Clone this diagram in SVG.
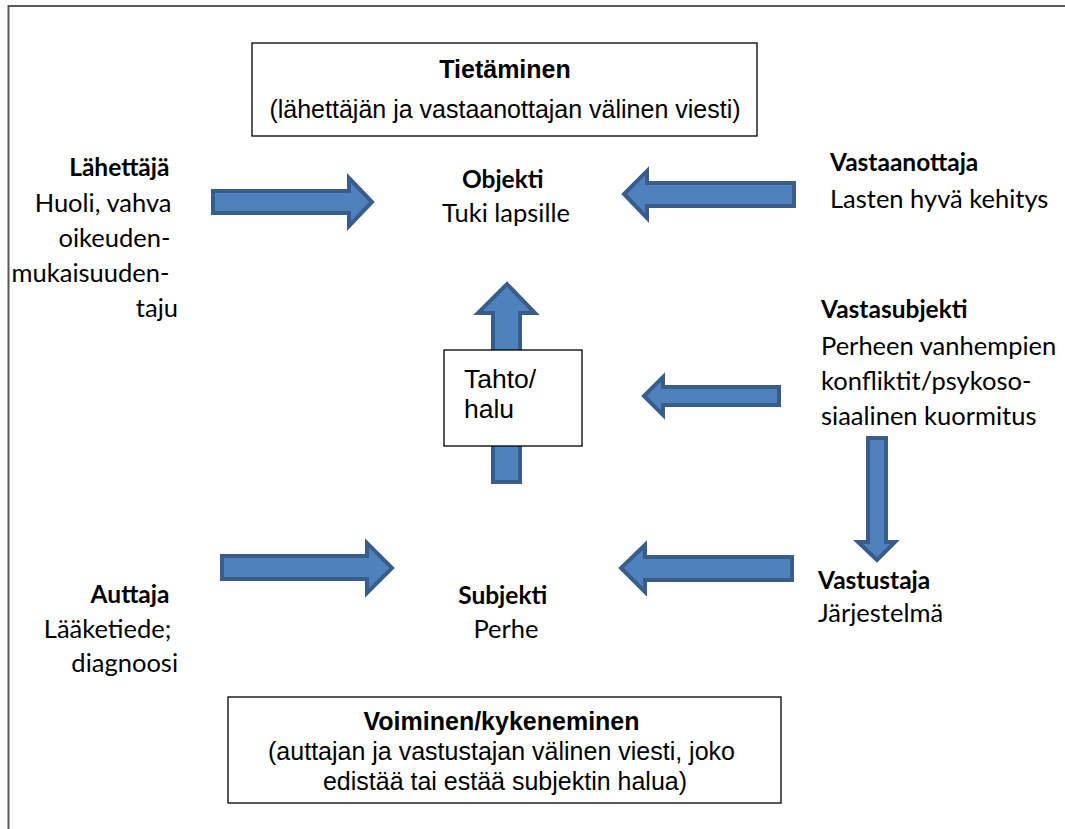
<svg xmlns="http://www.w3.org/2000/svg" width="1065" height="829" viewBox="0 0 1065 829">
  <style>
    .frame { fill: none; stroke: #595959; stroke-width: 2; }
    .box { fill: #ffffff; stroke: #000000; stroke-width: 1.3; }
    .arrow { fill: #4F81BD; stroke: #385D8A; stroke-width: 4; stroke-linejoin: miter; }
    .lbl { font-family: Lato, "Open Sans", sans-serif; font-size: 25.5px; fill: #000; }
    .lbl .b { font-weight: bold; font-size: 24.5px; }
    .ar { font-family: "Liberation Sans", Arial, sans-serif; fill: #000; }
    .ar .b, .ar.b { font-weight: bold; }
  </style>
  <rect width="1065" height="829" fill="#ffffff"/>
  <rect class="frame" x="8.5" y="6" width="1070" height="840"/>

  <g id="connectors">
    <!-- Lähettäjä -> Objekti -->
    <polygon class="arrow" points="213,191 349,191 349,178 372,202 349,226 349,213 213,213"/>
    <!-- Vastaanottaja -> Objekti -->
    <polygon class="arrow" points="794,183 647,183 647,171 624,194 647,218 647,206 794,206"/>
    <!-- Subjekti -> Objekti (up) -->
    <polygon class="arrow" points="493,482 493,313 478,313 507,284 535,313 520,313 520,482"/>
    <!-- Vastasubjekti -> Tahto/halu -->
    <polygon class="arrow" points="779,387 663,387 663,377 644,396 663,415 663,405 779,405"/>
    <!-- Vastasubjekti -> Vastustaja (down) -->
    <polygon class="arrow" points="868,438 886,438 886,542 895,542 877,560 858,542 868,542"/>
    <!-- Auttaja -> Subjekti -->
    <polygon class="arrow" points="222,556 367,556 367,543 392,568 367,593 367,579 222,579"/>
    <!-- Vastustaja -> Subjekti -->
    <polygon class="arrow" points="792,557 645,557 645,545 621,568 645,592 645,580 792,580"/>
  </g>

  <g id="tietaminen">
    <rect class="box" x="252" y="43" width="505" height="93"/>
    <text class="ar b" x="505" y="78" font-size="25" text-anchor="middle">Tietäminen</text>
    <text class="ar" x="505" y="118" font-size="25" text-anchor="middle">(lähettäjän ja vastaanottajan välinen viesti)</text>
  </g>

  <g id="lahettaja">
    <text class="lbl" text-anchor="end">
      <tspan class="b" x="176" y="176">Lähettäjä</tspan>
      <tspan x="178" y="212">Huoli, vahva</tspan>
      <tspan x="177" y="247">oikeuden-</tspan>
      <tspan x="176" y="282">mukaisuuden-</tspan>
      <tspan x="178" y="317">taju</tspan>
    </text>
  </g>

  <g id="objekti">
    <text class="lbl" text-anchor="middle">
      <tspan class="b" x="506" y="188">Objekti</tspan>
      <tspan x="506" y="222">Tuki lapsille</tspan>
    </text>
  </g>

  <g id="vastaanottaja">
    <text class="lbl">
      <tspan class="b" x="830" y="171">Vastaanottaja</tspan>
      <tspan x="830" y="208">Lasten hyvä kehitys</tspan>
    </text>
  </g>

  <g id="tahto">
    <rect class="box" x="444" y="350" width="138" height="96"/>
    <text class="ar" font-size="26.5">
      <tspan x="464" y="388">Tahto/</tspan>
      <tspan x="464" y="418">halu</tspan>
    </text>
  </g>

  <g id="vastasubjekti">
    <text class="lbl">
      <tspan class="b" x="821" y="318">Vastasubjekti</tspan>
      <tspan x="821" y="355">Perheen vanhempien</tspan>
      <tspan x="821" y="390">konfliktit/psykoso-</tspan>
      <tspan x="821" y="425">siaalinen kuormitus</tspan>
    </text>
  </g>

  <g id="vastustaja">
    <text class="lbl">
      <tspan class="b" x="818" y="589">Vastustaja</tspan>
      <tspan x="818" y="622">Järjestelmä</tspan>
    </text>
  </g>

  <g id="subjekti">
    <text class="lbl" text-anchor="middle">
      <tspan class="b" x="506" y="604">Subjekti</tspan>
      <tspan x="506" y="638">Perhe</tspan>
    </text>
  </g>

  <g id="auttaja">
    <text class="lbl" text-anchor="end">
      <tspan class="b" x="176" y="603">Auttaja</tspan>
      <tspan x="178" y="638">Lääketiede;</tspan>
      <tspan x="178" y="672">diagnoosi</tspan>
    </text>
  </g>

  <g id="voiminen">
    <rect class="box" x="228" y="697" width="553" height="106"/>
    <text class="ar" font-size="25" text-anchor="middle">
      <tspan class="b" x="505" y="730">Voiminen/kykeneminen</tspan>
      <tspan x="505" y="760">(auttajan ja vastustajan välinen viesti, joko</tspan>
      <tspan x="505" y="790">edistää tai estää subjektin halua)</tspan>
    </text>
  </g>
</svg>
